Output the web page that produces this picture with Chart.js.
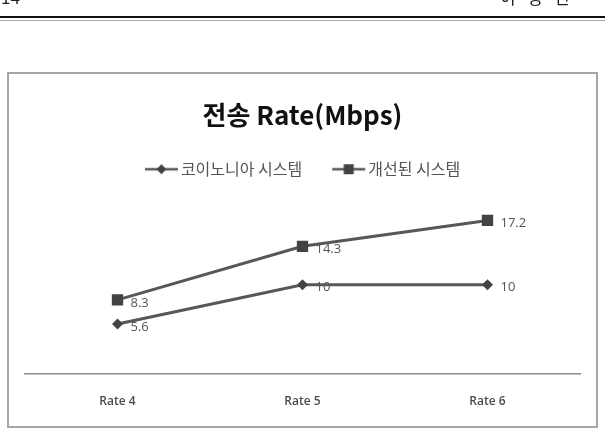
<!DOCTYPE html>
<html>
<head>
<meta charset="utf-8">
<script src="https://cdn.jsdelivr.net/npm/chart.js@4.4.1/dist/chart.umd.min.js"></script>
<style>
  html, body { margin: 0; padding: 0; background: #fff; }
  #wrap { width: 605px; height: 429px; position: relative; }
</style>
</head>
<body>
<div id="wrap"><canvas id="chart" width="605" height="429"></canvas></div>
<script>
// Chart data
const chartTitle = "전송 Rate(Mbps)";
const rateLabels = ["Rate 4", "Rate 5", "Rate 6"];
const seriesNames = ["코이노니아 시스템", "개선된 시스템"];
const koinoniaValues = [5.6, 10, 10];
const improvedValues = [8.3, 14.3, 17.2];

const lineColor = '#575757';
const markerColor = '#434343';
const labelColor = '#555555';

// small canvas used as the legend symbol: a short line with the marker in the middle
function makeLegendSymbol(style) {
  const c = document.createElement('canvas');
  c.width = 40;
  c.height = 14;
  const ctx = c.getContext('2d');
  ctx.strokeStyle = lineColor;
  ctx.lineWidth = 2.5;
  ctx.beginPath();
  ctx.moveTo(6, 7);
  ctx.lineTo(39, 7);
  ctx.stroke();
  ctx.fillStyle = markerColor;
  ctx.beginPath();
  if (style === 'rect') {
    ctx.rect(17.5, 2, 10, 10);
  } else {
    ctx.moveTo(22.5, 2);
    ctx.lineTo(27.5, 7);
    ctx.lineTo(22.5, 12);
    ctx.lineTo(17.5, 7);
    ctx.closePath();
  }
  ctx.fill();
  return c;
}

// page header and chart frame
const framePlugin = {
  id: 'frame',
  beforeDraw(chart) {
    const ctx = chart.ctx;
    ctx.save();
    ctx.fillStyle = '#fff';
    ctx.fillRect(0, 0, chart.width, chart.height);
    // running header of the page, cut off at the top
    ctx.fillStyle = '#222';
    ctx.font = '17px "Noto Sans CJK KR", sans-serif';
    ctx.textBaseline = 'alphabetic';
    ctx.fillText('14', 1, 4);
    const head = '이형선';
    for (let i = 0; i < head.length; i++) {
      ctx.fillText(head[i], 500 + i * 27, 4);
    }
    ctx.fillText('-', 594, 4);
    ctx.strokeStyle = '#111';
    ctx.lineWidth = 2;
    ctx.beginPath();
    ctx.moveTo(0, 17);
    ctx.lineTo(605, 17);
    ctx.stroke();
    ctx.strokeStyle = '#aaa';
    ctx.lineWidth = 1;
    ctx.beginPath();
    ctx.moveTo(0, 20.5);
    ctx.lineTo(605, 20.5);
    ctx.stroke();
    // chart border
    ctx.strokeStyle = '#a6a6a6';
    ctx.lineWidth = 2;
    ctx.strokeRect(8, 73, 589, 354);
    ctx.restore();
  }
};

// value labels to the right of each point
const valueLabelPlugin = {
  id: 'valueLabels',
  afterDatasetsDraw(chart) {
    const ctx = chart.ctx;
    ctx.save();
    ctx.fillStyle = labelColor;
    ctx.font = '13px "Open Sans", sans-serif';
    ctx.textBaseline = 'middle';
    ctx.textAlign = 'left';
    chart.data.datasets.forEach((ds, i) => {
      const meta = chart.getDatasetMeta(i);
      meta.data.forEach((pt, j) => {
        ctx.fillText(String(ds.data[j]), pt.x + 13, pt.y + 3);
      });
    });
    ctx.restore();
  }
};

new Chart(document.getElementById('chart'), {
  type: 'line',
  data: {
    labels: rateLabels,
    datasets: [
      {
        label: seriesNames[0],
        data: koinoniaValues,
        borderColor: lineColor,
        borderWidth: 3,
        pointStyle: 'rectRot',
        pointRadius: 5.5,
        pointBackgroundColor: markerColor,
        pointBorderColor: markerColor,
        pointBorderWidth: 0,
        tension: 0
      },
      {
        label: seriesNames[1],
        data: improvedValues,
        borderColor: lineColor,
        borderWidth: 3,
        pointStyle: 'rect',
        pointRadius: 8,
        pointBackgroundColor: markerColor,
        pointBorderColor: markerColor,
        pointBorderWidth: 0,
        tension: 0
      }
    ]
  },
  options: {
    responsive: false,
    animation: false,
    layout: { padding: { top: 100, left: 25, right: 25, bottom: 15 } },
    plugins: {
      title: {
        display: true,
        text: chartTitle,
        color: '#111',
        font: { family: '"Noto Sans CJK KR", sans-serif', size: 26, weight: 'bold' },
        padding: { top: 0, bottom: 0 }
      },
      // empty subtitle placed under the legend, only to keep a gap above the plot
      subtitle: {
        display: true,
        text: ' ',
        position: 'top',
        weight: 500,
        font: { size: 1 },
        padding: { top: 0, bottom: 7 }
      },
      legend: {
        display: true,
        labels: {
          color: '#555',
          font: { family: '"Noto Sans CJK KR", sans-serif', size: 16 },
          usePointStyle: true,
          pointStyleWidth: 28,
          padding: 30,
          generateLabels(chart) {
            return chart.data.datasets.map((ds, i) => ({
              text: ds.label,
              pointStyle: makeLegendSymbol(ds.pointStyle),
              fontColor: '#555',
              datasetIndex: i,
              lineWidth: 0
            }));
          }
        }
      },
      tooltip: { enabled: false }
    },
    scales: {
      x: {
        offset: true,
        grid: { display: false, drawTicks: false },
        border: { color: '#8c8c8c', width: 1.5 },
        ticks: {
          color: '#4a4a4a',
          font: { family: '"Open Sans", sans-serif', size: 12, weight: '600' },
          padding: 20
        },
        afterFit(scale) { scale.height = 40; }
      },
      y: {
        display: false,
        min: 0,
        max: 20
      }
    }
  },
  plugins: [framePlugin, valueLabelPlugin]
});
</script>
</body>
</html>
